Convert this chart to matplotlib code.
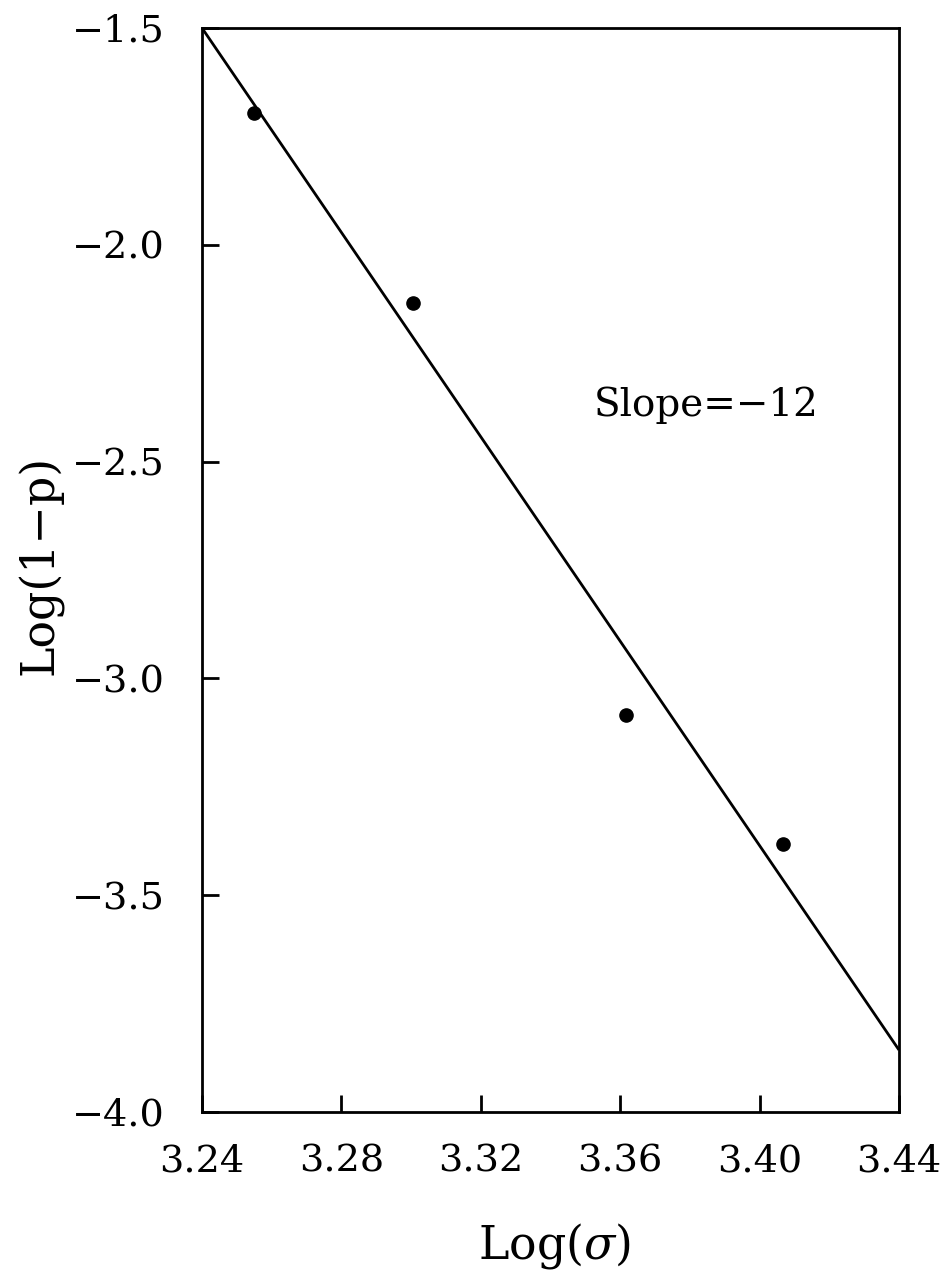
import matplotlib
matplotlib.use("Agg")
import matplotlib.pyplot as plt

# Data
log_sigma = [3.2549, 3.3005, 3.3617, 3.4067]
log_1mp = [-1.696, -2.134, -3.084, -3.382]
fit_x = [3.24, 3.44]
fit_y = [-1.50, -3.857]
xticks = [3.24, 3.28, 3.32, 3.36, 3.40, 3.44]
xtick_labels = ["3.24", "3.28", "3.32", "3.36", "3.40", "3.44"]
yticks = [-4.0, -3.5, -3.0, -2.5, -2.0, -1.5]
ytick_labels = ["\u22124.0", "\u22123.5", "\u22123.0", "\u22122.5", "\u22122.0", "\u22121.5"]
annotation = "Slope=\u221212"

plt.rcParams['font.family'] = ['DejaVu Serif']
plt.rcParams['mathtext.fontset'] = 'dejavuserif'

fig = plt.figure(figsize=(9.48, 12.73), dpi=100)
ax = fig.add_axes([202/948, 1 - 1112/1273, 697/948, 1084/1273])

ax.plot(fit_x, fit_y, color='black', lw=2.0, solid_capstyle='butt')
ax.plot(log_sigma, log_1mp, 'o', color='black', markersize=9.5)

ax.set_xlim(3.24, 3.44)
ax.set_ylim(-4.0, -1.5)
ax.set_xticks(xticks)
ax.set_xticklabels(xtick_labels)
ax.set_yticks(yticks)
ax.set_yticklabels(ytick_labels)

ax.tick_params(axis='both', direction='in', length=12, width=2.0,
               labelsize=27.5, top=False, right=False)
ax.tick_params(axis='x', pad=23)
ax.tick_params(axis='y', pad=27)
for s in ax.spines.values():
    s.set_linewidth(2.0)

ax.text(3.3525, -2.37, annotation, fontsize=28, ha='left', va='center')

fig.text(554/948, 1 - 1246/1273, r"Log$(\sigma)$", fontsize=33, ha='center', va='center')
fig.text(40/948, 1 - 565/1273, "Log(1\u2212p)", fontsize=33, ha='center', va='center', rotation=90)

fig.savefig("out.png", dpi=100)
